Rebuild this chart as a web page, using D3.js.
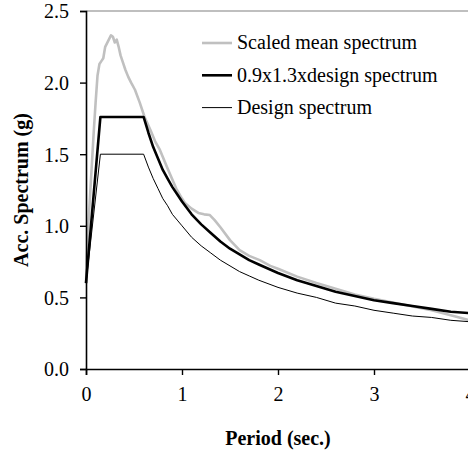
<!DOCTYPE html>
<html>
<head>
<meta charset="utf-8">
<script src="https://cdn.jsdelivr.net/npm/d3@7"></script>
<style>
  body { margin: 0; background: #fff; }
  svg { display: block; font-family: "Liberation Serif", "Times New Roman", serif; }
</style>
</head>
<body>
<div id="chart"></div>
<script>
// Scaled mean spectrum (grey)
const meanPeriod = [0, 0.02, 0.05, 0.08, 0.10, 0.12, 0.14, 0.16, 0.18, 0.20, 0.23, 0.26, 0.28, 0.30, 0.32, 0.34, 0.36, 0.38, 0.41, 0.44, 0.47, 0.51, 0.56, 0.61, 0.67, 0.72, 0.77, 0.85, 0.94, 1.0, 1.03, 1.1, 1.17, 1.23, 1.29, 1.34, 1.4, 1.5, 1.6, 1.7, 1.81, 1.92, 2.0, 2.2, 2.4, 2.6, 2.8, 3.0, 3.3, 3.6, 3.8, 4.0];
const meanSa = [0.60, 0.95, 1.30, 1.65, 1.86, 2.05, 2.13, 2.15, 2.17, 2.25, 2.29, 2.33, 2.32, 2.28, 2.30, 2.25, 2.19, 2.15, 2.09, 2.04, 2.00, 1.95, 1.86, 1.76, 1.67, 1.59, 1.53, 1.40, 1.26, 1.19, 1.16, 1.12, 1.09, 1.08, 1.075, 1.04, 0.99, 0.90, 0.83, 0.79, 0.76, 0.72, 0.70, 0.645, 0.60, 0.56, 0.52, 0.49, 0.45, 0.41, 0.375, 0.34];

// design spectra
const designPeriod = [0, 0.15, 0.6, 0.65, 0.7, 0.75, 0.8, 0.85, 0.9, 0.95, 1.0, 1.1, 1.2, 1.3, 1.4, 1.5, 1.6, 1.7, 1.8, 2.0, 2.2, 2.4, 2.6, 2.8, 3.0, 3.2, 3.4, 3.6, 3.8, 4.0];
const scaledDesignSa = [0.60, 1.76, 1.76, 1.65, 1.55, 1.47, 1.39, 1.33, 1.27, 1.22, 1.17, 1.08, 1.01, 0.95, 0.89, 0.84, 0.80, 0.76, 0.73, 0.67, 0.62, 0.58, 0.54, 0.51, 0.48, 0.46, 0.44, 0.42, 0.40, 0.39];
const designSa = [0.60, 1.50, 1.50, 1.41, 1.33, 1.26, 1.19, 1.14, 1.08, 1.04, 1.00, 0.92, 0.86, 0.81, 0.76, 0.72, 0.68, 0.65, 0.62, 0.57, 0.53, 0.50, 0.46, 0.44, 0.41, 0.39, 0.37, 0.36, 0.34, 0.33];

const xTicks = [0, 1, 2, 3, 4];
const yTicks = [0, 0.5, 1.0, 1.5, 2.0, 2.5];
const seriesNames = ["Scaled mean spectrum", "0.9x1.3xdesign spectrum", "Design spectrum"];

const W = 468, H = 452;
const margin = { top: 11, right: -2, bottom: 83, left: 86 };
const width = W - margin.left - margin.right;
const height = H - margin.top - margin.bottom;

const svg = d3.select("#chart").append("svg")
  .attr("width", W)
  .attr("height", H);

const g = svg.append("g")
  .attr("transform", `translate(${margin.left}, ${margin.top})`);

const x = d3.scaleLinear().domain([0, 4]).range([0, width]);
const y = d3.scaleLinear().domain([0, 2.5]).range([height, 0]);

// top frame line (grey)
g.append("line")
  .attr("x1", 0).attr("x2", width)
  .attr("y1", 0).attr("y2", 0)
  .attr("stroke", "#808080")
  .attr("stroke-width", 1.2);

// lines
const line = d3.line()
  .x(d => x(d[0]))
  .y(d => y(d[1]));

const series = [
  { pts: d3.zip(meanPeriod, meanSa), color: "#c0c0c0", w: 2.6 },
  { pts: d3.zip(designPeriod, designSa), color: "#000", w: 1 },
  { pts: d3.zip(designPeriod, scaledDesignSa), color: "#000", w: 2.6 }
];

series.forEach(s => {
  g.append("path")
    .datum(s.pts)
    .attr("fill", "none")
    .attr("stroke", s.color)
    .attr("stroke-width", s.w)
    .attr("stroke-linejoin", "round")
    .attr("d", line);
});

// axes
const xAxis = g.append("g")
  .attr("transform", `translate(0, ${height})`)
  .call(d3.axisBottom(x).tickValues(xTicks).tickFormat(d3.format("d")).tickSize(6).tickPadding(12));
const yAxis = g.append("g")
  .call(d3.axisLeft(y).tickValues(yTicks).tickFormat(d3.format(".1f")).tickSize(6).tickPadding(11));

[xAxis, yAxis].forEach(a => {
  a.select(".domain").attr("stroke", "#000").attr("stroke-width", 1.6);
  a.selectAll(".tick line").attr("stroke", "#000").attr("stroke-width", 1.4);
  a.selectAll("text")
    .style("font-family", "'Liberation Serif', serif")
    .style("font-size", "20px")
    .attr("fill", "#000");
});
yAxis.selectAll("text").attr("dy", "0.34em");

// axis titles
svg.append("text")
  .attr("x", margin.left + width / 2)
  .attr("y", 445)
  .attr("text-anchor", "middle")
  .style("font-size", "20px")
  .style("font-weight", "bold")
  .text("Period (sec.)");

svg.append("text")
  .attr("transform", `translate(28, ${margin.top + height / 2}) rotate(-90)`)
  .attr("text-anchor", "middle")
  .style("font-size", "20px")
  .style("font-weight", "bold")
  .text("Acc. Spectrum (g)");

// legend
const legendStyle = [
  { color: "#c0c0c0", w: 2.6 },
  { color: "#000", w: 2.6 },
  { color: "#000", w: 1 }
];
const legend = svg.append("g").attr("transform", "translate(202, 43)");
const item = legend.selectAll(".legendItem")
  .data(seriesNames)
  .enter().append("g")
  .attr("class", "legendItem")
  .attr("transform", (d, i) => `translate(0, ${i * 32.3})`);

item.append("line")
  .attr("x1", 0).attr("x2", 30)
  .attr("stroke", (d, i) => legendStyle[i].color)
  .attr("stroke-width", (d, i) => legendStyle[i].w);

item.append("text")
  .attr("x", 35)
  .attr("dy", "0.32em")
  .style("font-size", "20px")
  .text(d => d);
</script>
</body>
</html>
